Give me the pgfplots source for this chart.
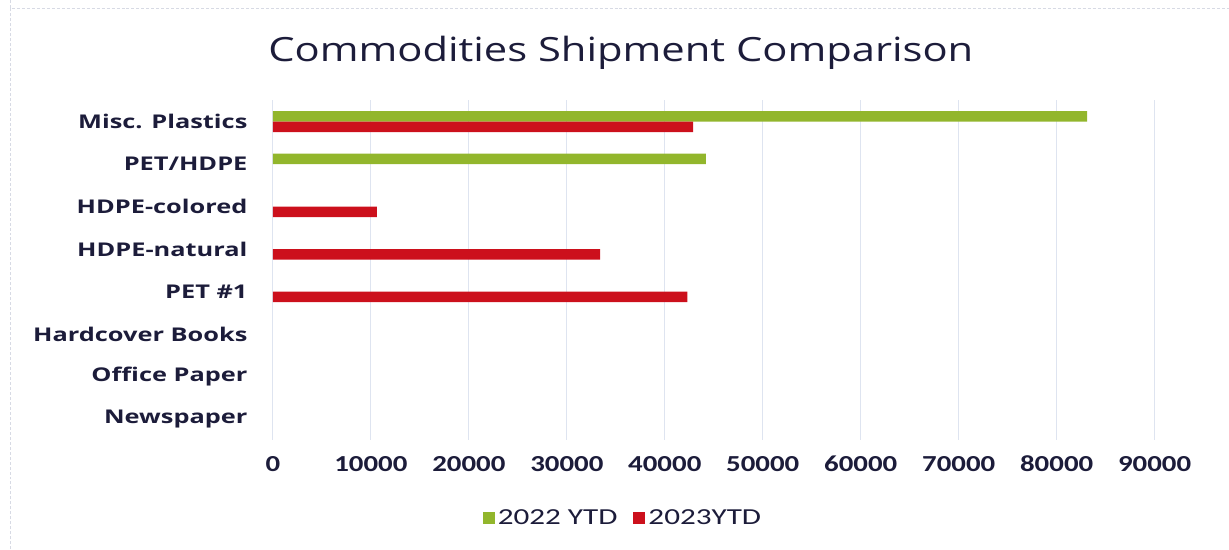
\documentclass[border=0pt]{standalone}
\usepackage{pgfplots}
\pgfplotsset{compat=1.18}
\usepackage{fontspec}
\setmainfont{Carlito}
\newfontfamily\titlefont[FakeStretch=1.25]{Open Sans}
\newfontfamily\catfont[FakeStretch=1.34]{Open Sans}
\newfontfamily\tickfont[FakeStretch=1.26]{Carlito}
\newfontfamily\legfont[FakeStretch=1.36]{Carlito}
\definecolor{bargreen}{RGB}{146,182,44}
\definecolor{barred}{RGB}{204,16,28}
\definecolor{gridc}{RGB}{222,228,240}
\definecolor{txt}{RGB}{28,28,58}
\definecolor{framec}{RGB}{215,218,228}
\begin{document}
\begin{tikzpicture}[x=1bp,y=1bp]
\path (0,0) rectangle (1229,549);
\draw[framec, densely dashed, line width=0.8bp] (10,549) -- (10,541) -- (1229,541);
\draw[framec, densely dashed, line width=0.8bp] (10,0) -- (10,541);
\node[font=\titlefont\fontsize{33.5}{40}\selectfont, text=txt] at (621,497) {Commodities Shipment Comparison};
\begin{axis}[
  at={(273bp,109bp)}, anchor=south west,
  scale only axis, width=882bp, height=340bp,
  xbar, bar width=10.5bp,
  xmin=0, xmax=90000,
  ymin=-0.5, ymax=7.5, y dir=reverse,
  ytick={0,...,7},
  yticklabels={Misc. Plastics,PET/HDPE,HDPE-colored,HDPE-natural,PET \#1,Hardcover Books,Office Paper,Newspaper},
  yticklabel style={font=\catfont\bfseries\fontsize{19}{22}\selectfont, text=txt, anchor=east, xshift=-22bp},
  xtick={0,10000,...,90000},
  xticklabel style={font=\tickfont\bfseries\fontsize{23}{28}\selectfont, text=txt, anchor=base, yshift=-31bp},
  /pgf/number format/assume math mode=true,
  /pgf/number format/1000 sep={},
  scaled x ticks=false,
  axis line style={draw=none},
  major tick length=0pt,
  xmajorgrids, grid style={gridc, line width=1bp},
  legend style={at={(0.397,-0.229)}, anchor=center, draw=none, legend columns=2,
    font=\legfont\fontsize{23}{28}\selectfont, text=txt,
    /tikz/every odd column/.append style={column sep=1bp},
    /tikz/every even column/.append style={column sep=14bp}},
  legend image code/.code={\fill[#1] (0bp,-6bp) rectangle (12bp,6bp);},
]
\addplot[fill=bargreen, draw=none, bar shift=5.25bp] coordinates {(83100,0) (44200,1)};
\addplot[fill=barred, draw=none, bar shift=-5.25bp] coordinates {(42900,0) (10600,2) (33400,3) (42300,4)};
\legend{2022 YTD,2023YTD}
\end{axis}
\end{tikzpicture}
\end{document}
